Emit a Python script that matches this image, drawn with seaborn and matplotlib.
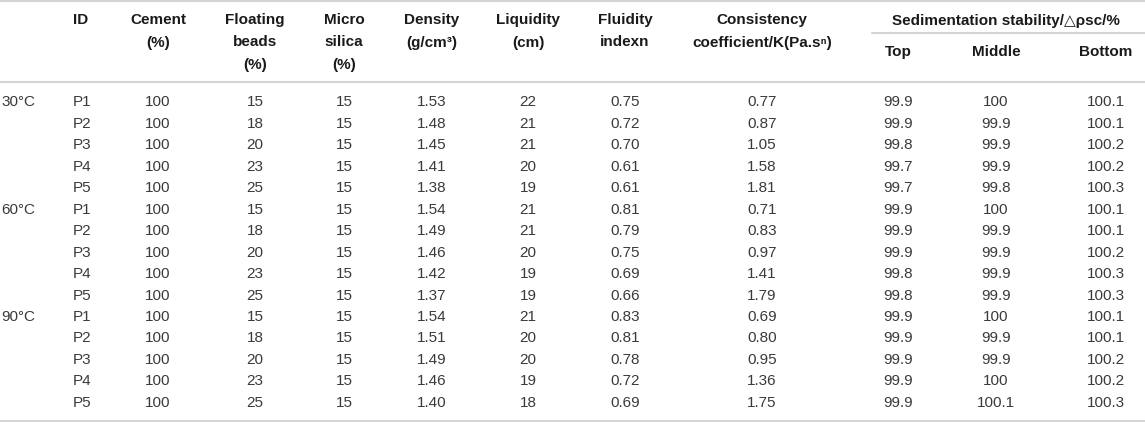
import pandas as pd
import matplotlib.pyplot as plt
import seaborn as sns

sns.set_theme(style="white")
plt.rcParams['font.family'] = ['Liberation Sans', 'DejaVu Sans']

# Table data
temps = ['30°C', '60°C', '90°C']
ids = ['P1', 'P2', 'P3', 'P4', 'P5']
cement = [100] * 15
beads = [15, 18, 20, 23, 25] * 3
silica = [15] * 15
density = [1.53, 1.48, 1.45, 1.41, 1.38,
           1.54, 1.49, 1.46, 1.42, 1.37,
           1.54, 1.51, 1.49, 1.46, 1.40]
liquidity = [22, 21, 21, 20, 19,
             21, 21, 20, 19, 19,
             21, 20, 20, 19, 18]
fluidity = [0.75, 0.72, 0.70, 0.61, 0.61,
            0.81, 0.79, 0.75, 0.69, 0.66,
            0.83, 0.81, 0.78, 0.72, 0.69]
consistency = [0.77, 0.87, 1.05, 1.58, 1.81,
               0.71, 0.83, 0.97, 1.41, 1.79,
               0.69, 0.80, 0.95, 1.36, 1.75]
top = [99.9, 99.9, 99.8, 99.7, 99.7,
       99.9, 99.9, 99.9, 99.8, 99.8,
       99.9, 99.9, 99.9, 99.9, 99.9]
middle = [100, 99.9, 99.9, 99.9, 99.8,
          100, 99.9, 99.9, 99.9, 99.9,
          100, 99.9, 99.9, 100, 100.1]
bottom = [100.1, 100.1, 100.2, 100.2, 100.3,
          100.1, 100.1, 100.2, 100.3, 100.3,
          100.1, 100.1, 100.2, 100.2, 100.3]

df = pd.DataFrame({
    'temp': [t for t in temps for _ in ids],
    'id': ids * 3,
    'cement': cement, 'beads': beads, 'silica': silica,
    'density': density, 'liquidity': liquidity, 'fluidity': fluidity,
    'consistency': consistency, 'top': top, 'middle': middle, 'bottom': bottom,
})

headers = {
    'cement': ['Cement', '(%)'],
    'beads': ['Floating', 'beads', '(%)'],
    'silica': ['Micro', 'silica', '(%)'],
    'density': ['Density', '(g/cm³)'],
    'liquidity': ['Liquidity', '(cm)'],
    'fluidity': ['Fluidity', 'indexn'],
    'consistency': ['Consistency', 'coefficient/K(Pa.sⁿ)'],
}
sub_headers = {'top': 'Top', 'middle': 'Middle', 'bottom': 'Bottom'}

fmt = {
    'cement': '{:d}', 'beads': '{:d}', 'silica': '{:d}',
    'density': '{:.2f}', 'liquidity': '{:d}', 'fluidity': '{:.2f}',
    'consistency': '{:.2f}', 'top': '{:g}', 'middle': '{:g}', 'bottom': '{:g}',
}

# layout (pixel units)
col_x = {'cement': 158, 'beads': 255, 'silica': 344, 'density': 432,
         'liquidity': 528, 'fluidity': 625, 'consistency': 762,
         'top': 898, 'middle': 996, 'bottom': 1106}
id_x = 73
temp_x = 1
row_y0 = 102.5
row_dy = 21.45
fs = 11
head_col = '#1a1a1a'
val_col = '#3a3a3a'
line_col = '#d4d4d4'

fig = plt.figure(figsize=(11.45, 4.22), dpi=100)
ax = fig.add_axes([0, 0, 1, 1])
ax.set_xlim(0, 1145)
ax.set_ylim(422, 0)
ax.axis('off')

# rules
ax.axhline(1, color=line_col, lw=1.5)
ax.axhline(82, color=line_col, lw=1.5)
ax.axhline(420.5, color=line_col, lw=1.5)
ax.plot([872, 1145], [33, 33], color=line_col, lw=1.5)

# header text
ax.text(id_x, 20, 'ID', ha='left', va='center', fontsize=fs,
        fontweight='bold', color=head_col)
for key, lines in headers.items():
    for i, line in enumerate(lines):
        ax.text(col_x[key], 20 + 22.5 * i, line, ha='center', va='center',
                fontsize=fs, fontweight='bold', color=head_col)
ax.text(1006, 21, 'Sedimentation stability/△ρsc/%', ha='center', va='center',
        fontsize=fs, fontweight='bold', color=head_col)
for key, label in sub_headers.items():
    ax.text(col_x[key], 52, label, ha='center', va='center', fontsize=fs,
            fontweight='bold', color=head_col)

# body
for r, row in df.reset_index(drop=True).iterrows():
    y = row_y0 + r * row_dy
    if row['id'] == 'P1':
        ax.text(temp_x, y, row['temp'], ha='left', va='center', fontsize=fs,
                color=val_col)
    ax.text(id_x, y, row['id'], ha='left', va='center', fontsize=fs,
            color=val_col)
    for key, f in fmt.items():
        v = row[key]
        txt = f.format(int(v)) if f == '{:d}' else f.format(v)
        ax.text(col_x[key], y, txt, ha='center', va='center', fontsize=fs,
                color=val_col)

plt.savefig('out.png', dpi=100)
